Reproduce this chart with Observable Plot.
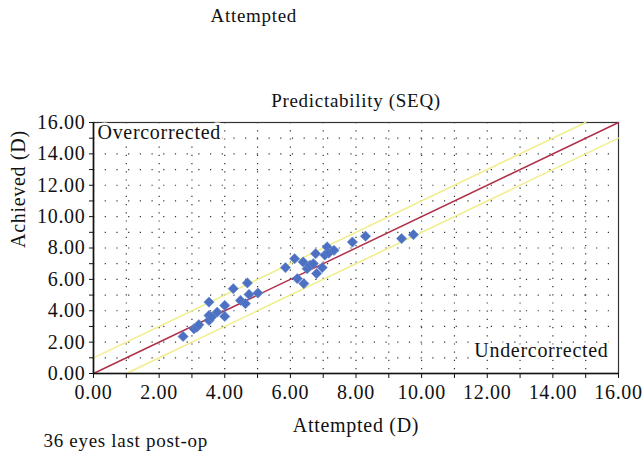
<!DOCTYPE html>
<html>
<head>
<meta charset="utf-8">
<script src="https://cdn.jsdelivr.net/npm/d3@7"></script>
<script src="https://cdn.jsdelivr.net/npm/@observablehq/plot@0.6"></script>
<style>
  html, body { margin: 0; padding: 0; background: #fff; }
  #chart { width: 642px; height: 456px; }
  #chart svg text { letter-spacing: 0.7px; }
</style>
</head>
<body>
<div id="chart"></div>
<script>
// Data
const attempted = [2.73, 3.06, 3.15, 3.21, 3.52, 3.52, 3.52, 3.60, 3.77, 4.00, 4.00, 4.26, 4.48, 4.63, 4.69, 4.74, 5.01,
  5.85, 6.13, 6.21, 6.39, 6.41, 6.51, 6.60, 6.70, 6.77, 6.80, 6.97, 7.05, 7.12, 7.17, 7.33, 7.89, 8.29, 9.39, 9.75];
const achieved = [2.36, 2.85, 2.95, 3.11, 4.55, 3.70, 3.38, 3.60, 3.91, 4.34, 3.64, 5.41, 4.66, 4.45, 5.77, 5.04, 5.13,
  6.75, 7.32, 6.05, 7.11, 5.73, 6.68, 6.90, 7.00, 7.64, 6.37, 6.75, 7.55, 8.07, 7.68, 7.85, 8.38, 8.75, 8.60, 8.85];
const lineOffsets = [-1, 0, 1];           // achieved = attempted + offset
const lineColors = ["#f0ee8a", "#b0304a", "#f0ee8a"];
const axisDomain = [0, 16];
const tickValues = d3.range(0, 17, 1);
const labelValues = [0, 2, 4, 6, 8, 10, 12, 14, 16];
const tickLabel = v => labelValues.includes(v) ? v.toFixed(2) : "";

const points = attempted.map((x, i) => ({x, y: achieved[i]}));
const refLines = lineOffsets.flatMap((o, k) => {
  const [lo, hi] = axisDomain;
  const x0 = Math.max(lo, lo - o), x1 = Math.min(hi, hi - o);
  return [{k, x: x0, y: x0 + o}, {k, x: x1, y: x1 + o}];
});

const font = "'Liberation Serif', 'DejaVu Serif', serif";
const fs = 20;

const chart = Plot.plot({
  width: 642,
  height: 456,
  marginLeft: 93,
  marginRight: 24,
  marginTop: 122,
  marginBottom: 83,
  style: {fontFamily: font, fontSize: fs + "px", color: "#111", background: "#fff"},
  x: {domain: axisDomain},
  y: {domain: axisDomain},
  marks: [
    Plot.gridY(tickValues.slice(1, -1), {stroke: "#000", strokeOpacity: 0.8, strokeWidth: 1.2, strokeDasharray: "1.2,10.5"}),
    Plot.gridX(tickValues.slice(1, -1), {stroke: "#000", strokeOpacity: 0.8, strokeWidth: 1.2, strokeDasharray: "1.2,7"}),
    Plot.frame({stroke: "#333", strokeWidth: 1.2}),
    Plot.line(refLines, {x: "x", y: "y", z: "k", stroke: d => lineColors[d.k], strokeWidth: 1.5}),
    Plot.dot(points, {x: "x", y: "y", symbol: "square", rotate: 45, r: 4.1, fill: "#4c70c2", stroke: "#6688cc", strokeWidth: 0.6}),
    Plot.axisX({ticks: tickValues, tickFormat: tickLabel, tickSize: 5, tickPadding: 6, fontSize: fs, label: null, stroke: "#111"}),
    Plot.axisY({ticks: tickValues, tickFormat: tickLabel, tickSize: 4, tickPadding: 4, fontSize: fs, label: null}),
    Plot.ruleX([0], {stroke: "#111", strokeWidth: 1.6}),
    Plot.ruleY([0], {stroke: "#111", strokeWidth: 1.6}),
    Plot.text(["Overcorrected"], {frameAnchor: "top-left", textAnchor: "start", lineAnchor: "middle", dx: 4, dy: 10, fontSize: fs, fill: "#111", stroke: "white", strokeWidth: 5}),
    Plot.text(["Undercorrected"], {frameAnchor: "bottom-right", textAnchor: "end", lineAnchor: "middle", dx: -10, dy: -23, fontSize: fs, fill: "#111", stroke: "white", strokeWidth: 5}),
    Plot.text(["Predictability (SEQ)"], {frameAnchor: "top", lineAnchor: "middle", dy: -22, fontSize: 19, fill: "#111"}),
    Plot.text(["Attempted"], {frameAnchor: "top-left", lineAnchor: "middle", dx: 117, dy: -107, fontSize: 19, fill: "#111"}),
    Plot.text(["Attempted (D)"], {frameAnchor: "bottom", lineAnchor: "middle", dy: 52, fontSize: fs, fill: "#111"}),
    Plot.text(["Achieved (D)"], {frameAnchor: "left", lineAnchor: "middle", dx: -75, rotate: -90, fontSize: fs, fill: "#111"}),
    Plot.text(["36 eyes last post-op"], {frameAnchor: "bottom-left", textAnchor: "start", lineAnchor: "middle", dx: -50, dy: 67, fontSize: 19, fill: "#111"})
  ]
});
document.getElementById("chart").append(chart);
</script>
</body>
</html>
